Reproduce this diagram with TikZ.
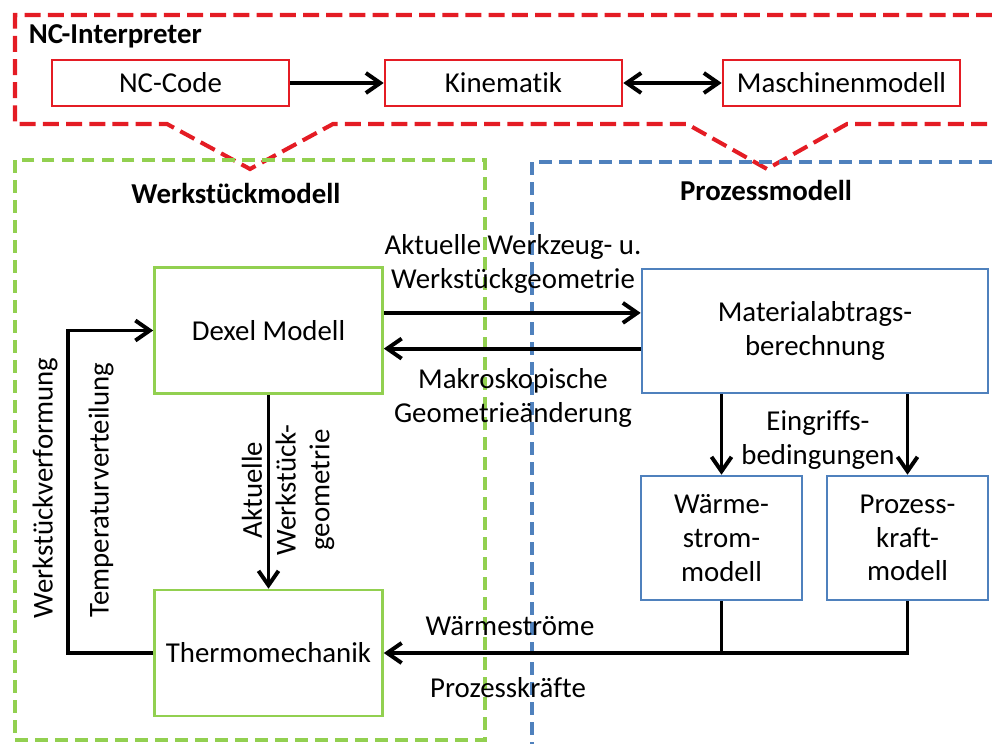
\documentclass[tikz,border=0pt]{standalone}
\usepackage{fontspec}
\setmainfont{Carlito}[Ligatures=NoCommon]
\usetikzlibrary{arrows.meta}
\definecolor{ncred}{RGB}{228,28,36}
\definecolor{wsgreen}{RGB}{146,208,80}
\definecolor{pmblue}{RGB}{79,129,189}

\begin{document}
\begin{tikzpicture}[x=0.025cm,y=-0.025cm,
    font=\fontsize{20.5}{24}\selectfont,
    >={Straight Barb[length=3.6mm,width=5mm]},
    ncbox/.style={draw=ncred,line width=1.8pt,minimum width=5.925cm,minimum height=1.15cm},
    wbox/.style={draw=wsgreen,line width=1.8pt,minimum width=5.7cm,minimum height=3.15cm,align=center},
    pbox/.style={draw=pmblue,line width=1.8pt,minimum height=3.1cm,align=center},
    frame/.style={line width=2.4pt,dash pattern=on 0.32cm off 0.18cm},
    arr/.style={line width=2.8pt,->},
    head/.style={font=\fontsize{20.5}{24}\selectfont\bfseries},
    lbl/.style={align=center}]
  \useasboundingbox (0,0) rectangle (992,743);
  % Rahmen
  \draw[ncred,frame,line width=2.9pt,dash pattern=on 0.4cm off 0.18cm]
    (992,15) -- (15,15) -- (15,124) -- (167,124) -- (250,169) -- (333,124)
    -- (687,124) -- (767,169) -- (847,124) -- (992,124);
  \draw[wsgreen,frame] (15,160) rectangle (485,740);
  \draw[pmblue,frame] (992,162) -- (532,162) -- (532,745);
  \node[head,anchor=west] (nci) at (24,36) {NC-Interpreter};
  \node[head] (wsm) at (236,193) {Werkstückmodell};
  \node[head] (pzm) at (766,190) {Prozessmodell};
  % NC-Interpreter
  \node[ncbox] (nc) at (170.5,83) {NC-Code};
  \node[ncbox] (kin) at (503.5,83) {Kinematik};
  \node[ncbox] (mm) at (841.5,83) {Maschinenmodell};
  \draw[arr] (nc) -- (kin);
  \draw[arr,<->] (kin) -- (mm);
  % Werkstueckmodell
  \node[wbox] (dexel) at (268.5,330.5) {Dexel Modell};
  \node[wbox] (thermo) at (268.5,653) {Thermomechanik};
  \coordinate (lp) at (68,490);
  \draw[arr] (dexel) -- (thermo);
  \draw[arr] (thermo.west) -| (lp) |- (dexel.west);
  \node[lbl,rotate=90] (verf) at (45,488) {Werkstückverformung};
  \node[lbl,rotate=90] (temp) at (101,490) {Temperaturverteilung};
  \node[lbl,rotate=90] (agm) at (288,490) {Aktuelle\\Werkstück-\\geometrie};
  % Prozessmodell
  \node[pbox,minimum width=8.65cm] (mat) at (815,331) {Materialabtrags-\\berechnung};
  \node[pbox,minimum width=4.025cm] (waerme) at (721.5,538) {Wärme-\\strom-\\modell};
  \node[pbox,minimum width=4.025cm] (kraft) at (907.5,538) {Prozess-\\kraft-\\modell};
  \draw[arr] ([yshift=4.4mm]dexel.east) -- ([yshift=4.4mm]dexel.east -| mat.west);
  \draw[arr] ([yshift=-4.4mm]mat.west) -- ([yshift=-4.4mm]mat.west -| dexel.east);
  \draw[arr] (waerme.north |- mat.south) -- (waerme.north);
  \draw[arr] (kraft.north |- mat.south) -- (kraft.north);
  \draw[line width=2.8pt] (kraft.south) |- (waerme.south |- thermo.east);
  \draw[arr] (waerme.south) -- (waerme.south |- thermo.east) -- (thermo.east);
  \node[lbl] (geo1) at (513,264) {Aktuelle Werkzeug- u.\\Werkstückgeometrie};
  \node[lbl] (geo2) at (513,398) {Makroskopische\\Geometrieänderung};
  \node[lbl] (eing) at (818,440) {Eingriffs-\\bedingungen};
  \node[lbl] (wst) at (510,626) {Wärmeströme};
  \node[lbl] (pkr) at (508,688) {Prozesskräfte};
\end{tikzpicture}
\end{document}
